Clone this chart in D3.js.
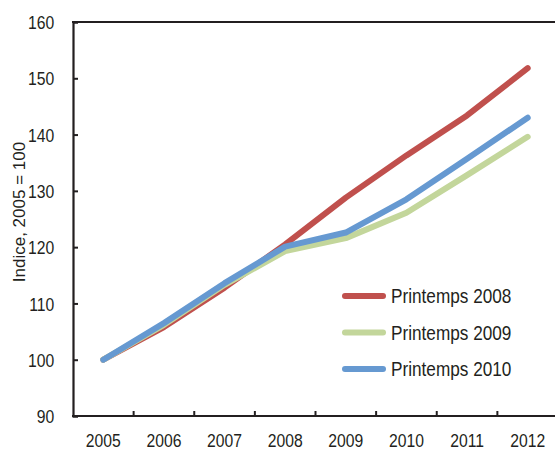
<!DOCTYPE html>
<html><head><meta charset="utf-8">
<script src="https://cdn.jsdelivr.net/npm/d3@7"></script>
<style>body{margin:0;background:#fff}svg{display:block}text{font-family:"Liberation Sans",Arial,sans-serif;fill:#231f20}</style>
</head><body><svg id="c" width="555" height="452"></svg>
<script>
const years = ["2005","2006","2007","2008","2009","2010","2011","2012"];
const seriesNames = ["Printemps 2008","Printemps 2009","Printemps 2010"];
const p2008 = [100, 105.8, 112.8, 120.5, 128.8, 136.3, 143.4, 151.8];
const p2009 = [100, 106.2, 113.3, 119.3, 121.6, 126.1, 132.8, 139.6];
const p2010 = [100, 106.5, 113.6, 120.1, 122.6, 128.5, 135.7, 143.0];
const yTicks = [90,100,110,120,130,140,150,160];
const colors = ["#c0504d","#c3d69b","#6699d1"];

const svg = d3.select("#c");
const x = d3.scaleBand().domain(years).range([73, 558]);
const y = d3.scaleLinear().domain([90,160]).range([416, 22]);
const ink = "#231f20";
const sx = 0.85;

// frame top
svg.append("line").attr("x1",72).attr("x2",555).attr("y1",y(160)).attr("y2",y(160)).attr("stroke",ink).attr("stroke-width",2);

// y axis
const ya = svg.append("g").attr("transform","translate(73,0)")
  .call(d3.axisLeft(y).tickValues(yTicks).tickSize(-5));
ya.select(".domain").attr("stroke",ink).attr("stroke-width",2.2);
ya.selectAll(".tick line").attr("stroke",ink).attr("stroke-width",2);
ya.selectAll(".tick text").attr("font-size",18.5).attr("fill",ink)
  .attr("x",-18.7/sx).attr("dy","0.36em").attr("transform",`scale(${sx},1)`);

// x axis
const xa = svg.append("g").attr("transform","translate(0,416)")
  .call(d3.axisBottom(x).tickSize(0));
xa.select(".domain").remove();
xa.selectAll(".tick text").attr("font-size",18.5).attr("fill",ink)
  .attr("y",31.5).attr("dy",0).attr("transform",`scale(${sx},1)`);
svg.append("line").attr("x1",72).attr("x2",555).attr("y1",416).attr("y2",416).attr("stroke",ink).attr("stroke-width",2.2);
svg.append("g").selectAll("line").data(years.slice(1)).join("line")
  .attr("x1",d=>x(d)).attr("x2",d=>x(d)).attr("y1",416).attr("y2",411)
  .attr("stroke",ink).attr("stroke-width",2);

// y title
svg.append("text").attr("transform","translate(25,212) rotate(-90)")
  .attr("text-anchor","middle").attr("font-size",17).text("Indice, 2005 = 100");

// lines
const data = [p2008,p2009,p2010];
const line = d3.line().x((d,i)=>x(years[i])+x.bandwidth()/2).y(d=>y(d));
svg.append("g").selectAll("path").data(data).join("path")
  .attr("d",line).attr("fill","none")
  .attr("stroke",(d,i)=>colors[i]).attr("stroke-width",6)
  .attr("stroke-linecap","round").attr("stroke-linejoin","round");

// legend
const ls = 0.86;
const lg = svg.append("g").selectAll("g").data(seriesNames).join("g")
  .attr("transform",(d,i)=>`translate(0,${296+i*36.5})`);
lg.append("line").attr("x1",345).attr("x2",383).attr("y1",0).attr("y2",0)
  .attr("stroke",(d,i)=>colors[i]).attr("stroke-width",6).attr("stroke-linecap","round");
lg.append("text").attr("x",391/ls).attr("y",7).attr("font-size",20)
  .attr("transform",`scale(${ls},1)`).text(d=>d);
</script></body></html>
